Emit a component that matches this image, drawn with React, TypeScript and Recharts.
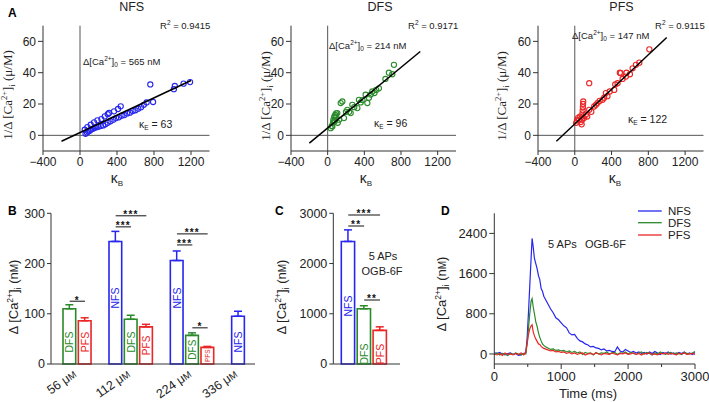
import React from 'react';
import {
  ScatterChart, Scatter, XAxis, YAxis, ReferenceLine,
  BarChart, Bar, Cell, ErrorBar, LabelList, LineChart, Line,
} from 'recharts';

const SANS = '"Liberation Sans", Arial, sans-serif';
const SERIF = '"Liberation Serif", "Times New Roman", serif';
const INK = '#222';
const AXIS = '#333';
const BLUE = '#2626ee';
const GREEN = '#2a8a2a';
const RED = '#ea2626';
const kindColor: Record<string, string> = { NFS: BLUE, DFS: GREEN, PFS: RED };

// ---- panel A: 1/d[Ca] vs kappa_B ----
const kappaTicks = [-400, 0, 400, 800, 1200];
const invTicks = [0, 20, 40, 60];

const nfsPoints: [number, number][] = [
  [51, 3.6], [80, 5.3], [116, 6.8], [152, 8.3], [188, 9.6], [231, 10.4], [267, 12.1], [300, 13.5],
  [314, 14.3], [368, 15.3], [411, 16.8], [440, 18.5],
  [60, 1], [75, 1.8], [90, 2.5], [105, 3], [120, 3.8], [140, 4.2], [160, 4.8], [180, 5.2],
  [200, 5.5], [225, 6], [250, 6.3], [275, 7], [300, 8], [330, 9], [360, 10], [390, 11],
  [420, 11.5], [450, 12.5], [480, 13], [510, 14], [540, 14.5], [570, 15.5], [600, 16],
  [630, 17], [660, 18], [690, 19.5], [720, 21], [790, 21.3],
  [760, 32.5], [1015, 29.5], [1025, 31.5], [1120, 33], [1190, 34],
];
const dfsPoints: [number, number][] = [
  [33, 4.6], [45, 6], [51, 5.7], [58, 8], [62, 10], [69, 8.9], [72, 12], [78, 9], [82, 13],
  [87, 12], [92, 14], [105, 14.2], [110, 8], [125, 10], [142, 20.6], [160, 21.6], [178, 11],
  [200, 15], [214, 16.3], [235, 15], [251, 14.2], [269, 19.5], [290, 18], [324, 17.4],
  [341, 22.7], [360, 21], [380, 22.5], [414, 25.9], [433, 20.6], [450, 24], [470, 26],
  [487, 28], [510, 27], [530, 29], [559, 30], [630, 36], [668, 40], [705, 39], [723, 45],
];
const pfsPoints: [number, number][] = [
  [15, 8], [25, 9.5], [35, 11], [48, 10], [55, 12], [65, 8.5], [75, 7], [80, 10], [82, 12],
  [84, 14], [86, 16], [88, 18], [90, 20], [92, 21.6], [100, 11], [120, 13.2], [135, 12],
  [157, 16.3], [157, 33.3], [180, 15], [211, 18.4], [230, 19.5], [247, 20.6], [270, 22],
  [302, 22.7], [320, 24], [338, 27], [355, 25], [380, 28], [429, 29], [440, 32.5],
  [465, 33.3], [490, 40], [501, 39.7], [520, 36], [556, 37.5], [563, 40], [600, 39],
  [629, 42.8], [665, 45], [702, 46.4], [811, 54.9],
];
const nfsFit: [number, number][] = [[-200, -3.8], [1200, 35]];
const dfsFit: [number, number][] = [[-200, -5], [1010, 53.5]];
const pfsFit: [number, number][] = [[-200, -3.8], [1000, 62.5]];

// ---- panel B: concentration series ----
const bSlots = ['56 DFS', '56 PFS', 'gap 1', '112 NFS', '112 DFS', '112 PFS', 'gap 2', '224 NFS', '224 DFS', '224 PFS', 'gap 3', '336 NFS'];
const bKinds = ['DFS', 'PFS', '', 'NFS', 'DFS', 'PFS', '', 'NFS', 'DFS', 'PFS', '', 'NFS'];
const bMeans = [110, 86, null, 244, 89, 74, null, 206, 57, 33, null, 95];
const bSems = [8, 6, null, 20, 8, 5, null, 19, 5, 2, null, 10];
const bConc = ['', '56', '', '', '112', '', '', '', '224', '', '', '336'];
const bTicks = [0, 100, 200, 300];
const bSig = [
  { from: '56 DFS', to: '56 PFS', at: 125, mark: '*' },
  { from: '112 NFS', to: '112 PFS', at: 295, mark: '***' },
  { from: '112 NFS', to: '112 DFS', at: 273, mark: '***' },
  { from: '224 NFS', to: '224 PFS', at: 259, mark: '***' },
  { from: '224 NFS', to: '224 DFS', at: 237, mark: '***' },
  { from: '224 DFS', to: '224 PFS', at: 72, mark: '*' },
];

// ---- panel C: 5 APs OGB-6F ----
const cKinds = ['NFS', 'DFS', 'PFS'];
const cMeans = [2440, 1100, 670];
const cSems = [230, 60, 70];
const cTicks = [0, 1000, 2000, 3000];
const cSig = [
  { from: 'NFS', to: 'PFS', at: 2966, mark: '***' },
  { from: 'NFS', to: 'DFS', at: 2747, mark: '**' },
  { from: 'DFS', to: 'PFS', at: 1274, mark: '**' },
];

// ---- panel D: traces ----
const traceTimes = [
  0, 40, 80, 120, 160, 200, 240, 280, 320, 360, 400, 440,
  470, 490, 510, 530, 550, 565, 580, 600, 620, 640, 660, 680, 700, 720, 740, 760,
  800, 840, 880, 920, 960, 1000, 1040, 1080, 1120, 1160, 1200, 1240, 1280, 1320, 1360, 1400,
  1440, 1480, 1520, 1560, 1600, 1640, 1680, 1720, 1760, 1800, 1840, 1880, 1920, 1960, 2000,
  2040, 2080, 2120, 2160, 2200, 2240, 2280, 2320, 2360, 2400, 2440, 2480, 2520, 2560, 2600,
  2640, 2680, 2720, 2760, 2800, 2840, 2880, 2920, 2960, 3000,
];
const nfsTrace = [
  20, 10, 30, 0, -20, 10, 20, -10, 10, -30, -20, 10,
  20, 300, 800, 1350, 1900, 2300, 2150, 1900, 1800, 1700, 1560, 1480, 1300, 1250, 1150, 1100,
  1000, 900, 820, 720, 680, 620, 560, 520, 420, 380, 390, 310, 260, 240, 200, 180,
  140, 150, 120, 110, 80, 100, 60, 70, 50, 40, 140, 60, 40, 90, 60,
  30, 50, 20, 40, 10, 30, 0, 40, 10, 50, 20, -10, 30, 10, 40,
  0, 20, -10, 30, 10, 40, 0, 20, -10, 30,
];
const dfsTrace = [
  -10, 20, -20, 10, 0, -30, 10, -10, 20, 0, -20, 10,
  0, 200, 500, 800, 1050, 1100, 950, 800, 640, 550, 420, 330, 260, 200, 170, 150,
  120, 90, 100, 70, 80, 60, 70, 40, 60, 30, 50, 20, 40, -10, 30, 10,
  20, -20, 30, 0, 20, 10, 40, 0, 20, 30, -10, 20, 10, 40, 0,
  30, 10, -10, 20, 40, 0, 30, 10, -20, 20, 0, 40, 10, -10, 20,
  30, 0, 20, 10, -10, 30, 10, 0, 20, 50,
];
const pfsTrace = [
  0, -20, 10, -30, 20, -10, 0, -20, 10, -10, 20, -20,
  30, 200, 380, 500, 560, 580, 450, 360, 300, 250, 200, 190, 150, 130, 110, 100,
  80, 60, 70, 40, 50, 30, 40, 10, 30, 0, 20, -10, 10, 20, -20, 0,
  10, -10, 20, 0, -20, 10, 0, -10, 20, 0, -20, 10, 0, 20, -10,
  0, 20, -10, 10, -20, 10, 0, 20, -10, 0, -20, 10, 0, 20, -10,
  10, 0, -20, 10, 0, 20, -10, 0, 10, -10,
];
const timeTicks = [0, 500, 1000, 1500, 2000, 2500, 3000];
const dTicks = [0, 800, 1600, 2400];

const minus = (v: number) => String(v).replace('-', '\u2212');
const tickStyle = (size: number) => ({ fill: INK, fontSize: size, fontFamily: SANS });

function KappaPanel({ left, plotW, points, fit, color }: any) {
  const data = points.map(([x, y]: number[]) => ({ x, y }));
  const line = fit.map(([x, y]: number[]) => ({ x, y }));
  return (
    <div style={{ position: 'absolute', left, top: 0 }}>
      <ScatterChart width={43 + plotW + 2} height={200} margin={{ top: 25.7, right: 2, bottom: 0, left: 0 }}>
        <XAxis type="number" dataKey="x" domain={[-400, 1400]} ticks={kappaTicks} tickFormatter={minus}
          height={49} stroke={AXIS} tickSize={4} tick={tickStyle(12)} />
        <YAxis type="number" dataKey="y" domain={[-10, 70]} ticks={invTicks} width={43}
          stroke={AXIS} tickSize={5} tick={tickStyle(12)} />
        <ReferenceLine x={0} stroke="#555" />
        <ReferenceLine y={0} stroke="#555" />
        <Scatter data={data} isAnimationActive={false}
          shape={(p: any) => <circle cx={p.cx} cy={p.cy} r={2.6} fill="none" stroke={color} strokeWidth={1.1} />} />
        <Scatter data={line} isAnimationActive={false} line={{ stroke: '#000', strokeWidth: 1.5 }}
          shape={() => <g />} />
      </ScatterChart>
    </div>
  );
}

// significance bracket: a line with asterisks sitting just above it
const sigShape = (mark: string) => (p: any) => (
  <g>
    <line x1={p.x1} y1={p.y1} x2={p.x2} y2={p.y2} stroke="#111" strokeWidth={1} />
    <text x={(p.x1 + p.x2) / 2} y={p.y1 + 2.3} textAnchor="middle" fontSize={10} fontWeight="bold"
      letterSpacing={1.2} fontFamily={SANS} fill="#111">{mark}</text>
  </g>
);

const barTag = (placement: (kind: string, h: number) => [number, number]) => (p: any) => {
  const { x, y, width, height, value } = p;
  if (!value || !height) return null;
  const [lift, fs] = placement(value, height);
  const cx = x + width / 2;
  const cy = y + height - lift;
  return (
    <text x={cx} y={cy} transform={`rotate(-90 ${cx} ${cy})`} textAnchor="middle" dominantBaseline="central"
      fontSize={fs} fontFamily={SANS} fill={kindColor[value]}>{value}</text>
  );
};

function errBars() {
  return ['NFS', 'DFS', 'PFS'].map((k) => (
    <ErrorBar key={k} direction="y" width={4} stroke={kindColor[k]} strokeWidth={1.5}
      dataKey={(d: any) => (d.kind === k && d.sem != null ? [0, d.sem] : undefined)} />
  ));
}

function PanelB() {
  const data = bSlots.map((slot, i) => ({ slot, kind: bKinds[i], mean: bMeans[i], sem: bSems[i] }));
  const concTick = (p: any) => {
    const label = bConc[p.index];
    if (!label) return null;
    const shift = p.payload.value === '56 PFS' ? -7.7 : 0;
    const x = p.x + shift;
    const y = p.y + 12;
    return (
      <text x={x} y={y} transform={`rotate(-35 ${x} ${y})`} textAnchor="end" fontSize={12.5} fontFamily={SANS} fill={INK}>
        {label} μ<tspan fontSize={9.5}>M</tspan>
      </text>
    );
  };
  const place = (kind: string, h: number): [number, number] => {
    if (h > 100) return [66, 10.5];
    if (h > 40) return [22, 10.5];
    return [h / 2, h < 20 ? 6.5 : 10];
  };
  return (
    <div style={{ position: 'absolute', left: 0, top: 200 }}>
      <BarChart width={260} height={202} data={data} margin={{ top: 13.3, right: 5, bottom: 0, left: 0 }}
        barCategoryGap={0}>
        <XAxis dataKey="slot" type="category" padding={{ left: 11, right: 9 }} height={38} stroke={AXIS}
          tickLine={false} tickSize={0} tickMargin={0} interval={0} tick={concTick} />
        <YAxis type="number" domain={[0, 300]} ticks={bTicks} width={51} stroke={AXIS} tickSize={4}
          tick={tickStyle(12.5)} />
        <Bar dataKey="mean" barSize={12.7} isAnimationActive={false}>
          {data.map((d, i) => (
            <Cell key={i} fill="#fff" stroke={kindColor[d.kind] || 'none'} strokeWidth={1.6} />
          ))}
          {errBars()}
          <LabelList dataKey="kind" content={barTag(place)} />
        </Bar>
        {bSig.map((s, i) => (
          <ReferenceLine key={i} segment={[{ x: s.from, y: s.at }, { x: s.to, y: s.at }]} shape={sigShape(s.mark)} />
        ))}
      </BarChart>
    </div>
  );
}

function PanelC() {
  const data = cKinds.map((kind, i) => ({ slot: kind, kind, mean: cMeans[i], sem: cSems[i] }));
  const place = (kind: string, h: number): [number, number] => (kind === 'NFS' ? [58, 10.5] : [10, 10.5]);
  return (
    <div style={{ position: 'absolute', left: 270, top: 200 }}>
      <BarChart width={135} height={202} data={data} margin={{ top: 13.3, right: 5, bottom: 0, left: 0 }}
        barCategoryGap={0}>
        <XAxis dataKey="slot" type="category" padding={{ left: 7, right: 12 }} height={38} stroke={AXIS}
          tickLine={false} tick={false} />
        <YAxis type="number" domain={[0, 3000]} ticks={cTicks} width={63.3} stroke={AXIS} tickSize={4}
          tick={tickStyle(12.5)} />
        <Bar dataKey="mean" barSize={13.3} isAnimationActive={false}>
          {data.map((d, i) => (
            <Cell key={i} fill="#fff" stroke={kindColor[d.kind]} strokeWidth={1.6} />
          ))}
          {errBars()}
          <LabelList dataKey="kind" content={barTag(place)} />
        </Bar>
        {cSig.map((s, i) => (
          <ReferenceLine key={i} segment={[{ x: s.from, y: s.at }, { x: s.to, y: s.at }]} shape={sigShape(s.mark)} />
        ))}
      </BarChart>
    </div>
  );
}

function PanelD() {
  const data = traceTimes.map((t, i) => ({ t, nfs: nfsTrace[i], dfs: dfsTrace[i], pfs: pfsTrace[i] }));
  const timeTick = (p: any) => {
    const v = p.payload.value;
    const major = v % 1000 === 0;
    return (
      <g>
        <line x1={p.x} y1={p.y} x2={p.x} y2={p.y + (major ? 5 : 3)} stroke={AXIS} />
        {major && (
          <text x={p.x} y={p.y + 17} textAnchor="middle" fontSize={13} fontFamily={SANS} fill={INK}>{v}</text>
        )}
      </g>
    );
  };
  return (
    <div style={{ position: 'absolute', left: 420, top: 200 }}>
      <LineChart width={289} height={202} data={data} margin={{ top: 13.3, right: 14, bottom: 0, left: 0 }}>
        <XAxis type="number" dataKey="t" domain={[0, 3000]} ticks={timeTicks} height={38} stroke={AXIS}
          tickLine={false} tickSize={0} tickMargin={0} interval={0} tick={timeTick} />
        <YAxis type="number" domain={[-200, 2800]} ticks={dTicks} width={74.3} stroke={AXIS} tickSize={5}
          tick={tickStyle(13)} />
        <Line dataKey="nfs" stroke={BLUE} strokeWidth={1.2} dot={false} isAnimationActive={false} />
        <Line dataKey="dfs" stroke={GREEN} strokeWidth={1.2} dot={false} isAnimationActive={false} />
        <Line dataKey="pfs" stroke={RED} strokeWidth={1.2} dot={false} isAnimationActive={false} />
      </LineChart>
    </div>
  );
}

const Sup = ({ t, s = 7 }: any) => <tspan dy={-4} fontSize={s}>{t}</tspan>;

function InvLabel({ x, y }: any) {
  return (
    <text x={x} y={y} transform={`rotate(-90 ${x} ${y})`} textAnchor="middle" fontSize={13} fontFamily={SERIF} fill={INK}>
      1/Δ [Ca<tspan dy={-5} fontSize={8.5}>2+</tspan><tspan dy={5}>]</tspan><tspan dy={2.5} fontSize={8.5}>i</tspan>
      <tspan dy={-2.5}> (μ/M)</tspan>
    </text>
  );
}

function CaLabel({ x, y }: any) {
  return (
    <text x={x} y={y} transform={`rotate(-90 ${x} ${y})`} textAnchor="middle" fontSize={13} fontFamily={SANS} fill={INK}>
      Δ [Ca<tspan dy={-5} fontSize={8.5}>2+</tspan><tspan dy={5}>]</tspan><tspan dy={2.5} fontSize={8.5}>i</tspan>
      <tspan dy={-2.5}> (n</tspan><tspan fontSize={10}>M</tspan>)
    </text>
  );
}

function Notes() {
  const note = { fontSize: 9.5, fontFamily: SANS, fill: INK };
  const big = { fontSize: 12.5, fontFamily: SANS, fill: INK };
  const dCa = (x: number, y: number, v: number) => (
    <text x={x} y={y} {...note}>
      Δ[Ca<tspan dy={-4} fontSize={6.5}>2+</tspan><tspan dy={4}>]</tspan><tspan dy={2} fontSize={6.5}>0</tspan>
      <tspan dy={-2}> = {v} nM</tspan>
    </text>
  );
  const r2 = (x: number, y: number, v: string) => (
    <text x={x} y={y} {...note}>R<Sup t="2" s={6.5} /><tspan dy={4}> = {v}</tspan></text>
  );
  const kE = (x: number, y: number, v: number) => (
    <text x={x} y={y} {...note} fontSize={10.5}>κ<tspan dy={2} fontSize={6.5}>E</tspan><tspan dy={-2}> = {v}</tspan></text>
  );
  const kB = (x: number) => (
    <text x={x} y={183} textAnchor="middle" fontSize={14} fontFamily={SANS} fill={INK}>
      κ<tspan dy={3} fontSize={8}>B</tspan>
    </text>
  );
  const letter = (x: number, y: number, t: string) => (
    <text x={x} y={y} fontSize={12} fontWeight="bold" fontFamily={SANS} fill="#000">{t}</text>
  );
  return (
    <svg width={709} height={402} style={{ position: 'absolute', left: 0, top: 0, pointerEvents: 'none' }}>
      {letter(8, 17, 'A')}
      {letter(8, 215, 'B')}
      {letter(275, 215, 'C')}
      {letter(441, 215, 'D')}
      <text x={131.7} y={11} textAnchor="middle" {...big}>NFS</text>
      <text x={380} y={11} textAnchor="middle" {...big}>DFS</text>
      <text x={621.5} y={11} textAnchor="middle" {...big}>PFS</text>
      {r2(160, 29, '0.9415')}
      {r2(408, 29, '0.9171')}
      {r2(655, 29, '0.9115')}
      {dCa(83, 65, 565)}
      {dCa(329, 48.5, 214)}
      {dCa(572, 38.5, 147)}
      {kE(139, 128, 63)}
      {kE(374, 127, 96)}
      {kE(628, 123, 122)}
      {kB(117)}
      {kB(366)}
      {kB(615)}
      <InvLabel x={12} y={95} />
      <InvLabel x={270} y={96} />
      <InvLabel x={506} y={96} />
      <CaLabel x={18} y={297} />
      <CaLabel x={286} y={297} />
      <CaLabel x={446} y={294} />
      <text x={383} y={260} textAnchor="middle" fontSize={11} fontFamily={SANS} fill={INK}>5 APs</text>
      <text x={382} y={275} textAnchor="middle" fontSize={11} fontFamily={SANS} fill={INK}>OGB-6F</text>
      <text x={548} y={248} fontSize={11} fontFamily={SANS} fill={INK}>5 APs</text>
      <text x={585} y={248} fontSize={11} fontFamily={SANS} fill={INK}>OGB-6F</text>
      <text x={588} y={398} textAnchor="middle" fontSize={13} fontFamily={SANS} fill={INK}>Time (ms)</text>
      {[['NFS', BLUE, 211], ['DFS', GREEN, 222.7], ['PFS', RED, 235]].map(([k, c, y]: any) => (
        <g key={k}>
          <line x1={638} x2={661.7} y1={y} y2={y} stroke={c} strokeWidth={1.3} />
          <text x={668} y={y + 4} fontSize={11.5} fontFamily={SANS} fill={INK}>{k}</text>
        </g>
      ))}
    </svg>
  );
}

export default function App() {
  return (
    <div style={{ position: 'absolute', left: 0, top: 0, width: 709, height: 402, background: '#fff', fontFamily: SANS }}>
      <KappaPanel left={0} plotW={166.5} points={nfsPoints} fit={nfsFit} color={BLUE} />
      <KappaPanel left={248} plotW={165} points={dfsPoints} fit={dfsFit} color={GREEN} />
      <KappaPanel left={495.3} plotW={165.5} points={pfsPoints} fit={pfsFit} color={RED} />
      <PanelB />
      <PanelC />
      <PanelD />
      <Notes />
    </div>
  );
}
